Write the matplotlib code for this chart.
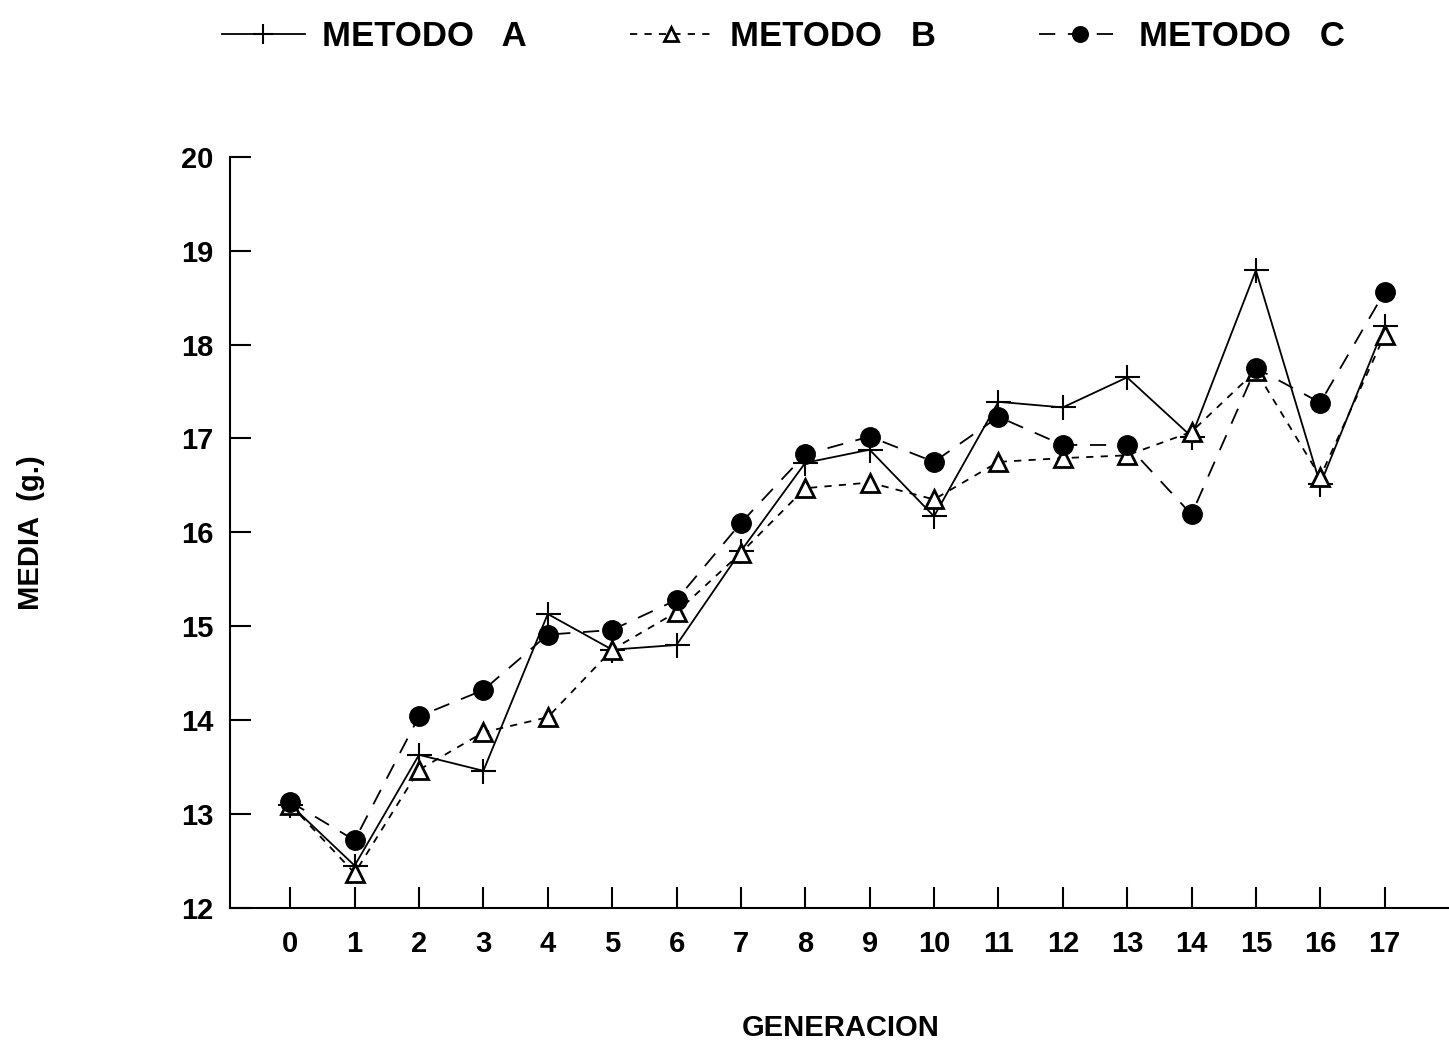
import numpy as np
import matplotlib
matplotlib.use("Agg")
import matplotlib.pyplot as plt

# generations and mean values for the three methods
generacion = list(range(18))
metodo_a = [13.10, 12.45, 13.63, 13.46, 15.13, 14.75, 14.80, 15.80, 16.74, 16.88,
            16.17, 17.39, 17.33, 17.65, 17.02, 18.79, 16.51, 18.20]
metodo_b = [13.10, 12.37, 13.47, 13.87, 14.03, 14.75, 15.15, 15.78, 16.47, 16.53,
            16.35, 16.75, 16.79, 16.82, 17.07, 17.72, 16.59, 18.10]
metodo_c = [13.13, 12.72, 14.04, 14.32, 14.91, 14.96, 15.28, 16.10, 16.83, 17.02,
            16.75, 17.23, 16.93, 16.93, 16.19, 17.75, 17.38, 18.56]
yticks = [12, 13, 14, 15, 16, 17, 18, 19, 20]

plt.rcParams['font.family'] = ['Liberation Sans', 'DejaVu Sans']
plt.rcParams['font.weight'] = 'bold'

fig = plt.figure(figsize=(14.49, 10.52), dpi=100)
ax = fig.add_axes([0.159, 0.137, 0.841, 0.714])

la, = ax.plot(generacion, metodo_a, color='black', linewidth=1.3,
              marker='+', markersize=18, markeredgewidth=1.5)
lb, = ax.plot(generacion, metodo_b, color='black', linewidth=1.3, dashes=(4, 4),
              marker='^', markersize=13, markerfacecolor='white', markeredgewidth=2)
lc, = ax.plot(generacion, metodo_c, color='black', linewidth=1.3, dashes=(9, 7),
              marker='o', markersize=14, markerfacecolor='black')

ax.set_xlim(-0.93, 18.0)
ax.set_ylim(12, 20)
ax.set_xticks(generacion)
ax.set_yticks(yticks)
ax.tick_params(direction='in', length=15, width=1.5, labelsize=21, pad=12)
ax.tick_params(axis='x', pad=16)
for lab in ax.get_xticklabels() + ax.get_yticklabels():
    lab.set_fontweight('bold')
ax.spines['top'].set_visible(False)
ax.spines['right'].set_visible(False)
ax.spines['left'].set_linewidth(1.5)
ax.spines['bottom'].set_linewidth(1.5)

ax.set_ylabel('MEDIA  (g.)', fontsize=21, fontweight='bold')
ax.yaxis.set_label_coords(-0.152, 0.5)
fig.text(0.58, 0.015, 'GENERACION', fontsize=21, fontweight='bold', ha='center')

fig.legend([la, lb, lc], ['METODO   A', 'METODO   B', 'METODO   C'],
           loc='upper left', bbox_to_anchor=(0.153, 0.981), ncol=3, frameon=False,
           fontsize=25, handlelength=2.4, columnspacing=2.95, handletextpad=0.5,
           borderaxespad=0, borderpad=0, markerscale=0.8)

fig.savefig('out.png', dpi=100)
